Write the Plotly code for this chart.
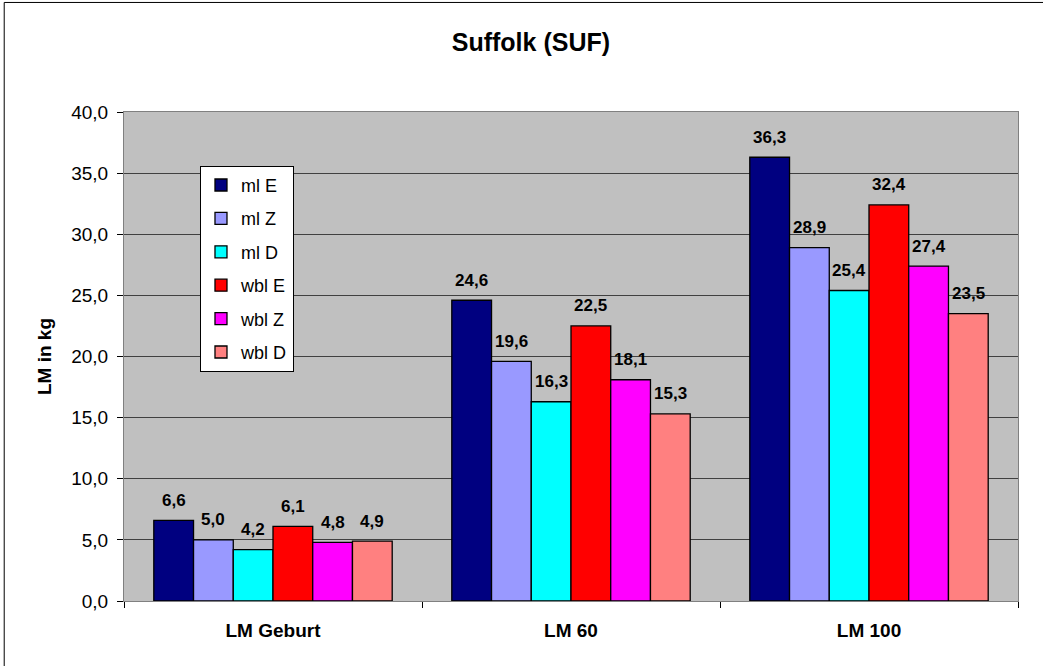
"""
Suffolk (SUF) - LM in kg grouped bar chart
"""
import plotly.graph_objects as go

categories = ['LM Geburt', 'LM 60', 'LM 100']
series_names = ['ml E', 'ml Z', 'ml D', 'wbl E', 'wbl Z', 'wbl D']
ml_e = [6.6, 24.6, 36.3]
ml_z = [5.0, 19.6, 28.9]
ml_d = [4.2, 16.3, 25.4]
wbl_e = [6.1, 22.5, 32.4]
wbl_z = [4.8, 18.1, 27.4]
wbl_d = [4.9, 15.3, 23.5]
colors = ['#000080', '#9999FF', '#00FFFF', '#FF0000', '#FF00FF', '#FF8080']

FONT = 'Liberation Sans, Arial, sans-serif'
W, H = 1043, 666
M = dict(l=124, r=25, t=112, b=65)
BARGAP = 0.2

series = [ml_e, ml_z, ml_d, wbl_e, wbl_z, wbl_d]

fig = go.Figure()
for name, vals, col in zip(series_names, series, colors):
    fig.add_trace(go.Bar(
        name=name, x=categories, y=vals, legendgroup=name,
        marker=dict(color=col, line=dict(color='black', width=1.3)),
    ))

# value labels above the bars (Excel style, floating a bit above the bar top)
bar_px = (W - M['l'] - M['r']) / len(categories) * (1 - BARGAP) / len(series)
for i, vals in enumerate(series):
    for cat, v in zip(categories, vals):
        fig.add_annotation(
            x=cat, y=v, text=f"<b>{v:.1f}</b>".replace('.', ','),
            showarrow=False, xshift=(i - (len(series) - 1) / 2) * bar_px,
            yanchor='middle', yshift=20,
            font=dict(family=FONT, size=17, color='black'),
        )

fig.update_layout(
    width=W, height=H,
    barmode='group', bargap=BARGAP, bargroupgap=0,
    separators=',.',
    paper_bgcolor='white', plot_bgcolor='#C0C0C0',
    margin=M,
    font=dict(family=FONT, size=19, color='black'),
    title=dict(text='<b>Suffolk (SUF)</b>', x=0.509, xanchor='center', y=0.937, yanchor='middle',
               font=dict(size=25)),
    legend=dict(x=0.085, y=0.89, xanchor='left', yanchor='top',
                bgcolor='white', bordercolor='black', borderwidth=1,
                font=dict(size=18), itemwidth=30, tracegroupgap=7),
    showlegend=True,
)
fig.update_yaxes(
    range=[0, 40], dtick=5, tickformat='.1f',
    showgrid=True, gridcolor='#404040', gridwidth=1,
    ticks='outside', ticklen=6, tickcolor='black',
    showline=True, linecolor='#808080', mirror=True,
    zeroline=False, ticklabelstandoff=5,
    title=dict(text='<b>LM in kg</b>', font=dict(size=19), standoff=14),
)
fig.update_xaxes(
    tickson='boundaries', ticks='outside', ticklen=6, tickcolor='black',
    showline=True, linecolor='#808080', mirror=True,
    tickfont=dict(size=19, weight='bold'), ticklabelstandoff=12,
)
# outer chart border (only its left and top edges fall inside the picture)
fig.add_shape(type='line', xref='paper', yref='paper',
              x0=-0.134, x1=-0.134, y0=-0.2, y1=1.224,
              line=dict(color='black', width=1), layer='below')
fig.add_shape(type='line', xref='paper', yref='paper',
              x0=-0.134, x1=1.2, y0=1.224, y1=1.224,
              line=dict(color='black', width=1), layer='below')

fig.write_html("out.html", config={'displayModeBar': False},
               post_script="document.body.style.margin='0';")
